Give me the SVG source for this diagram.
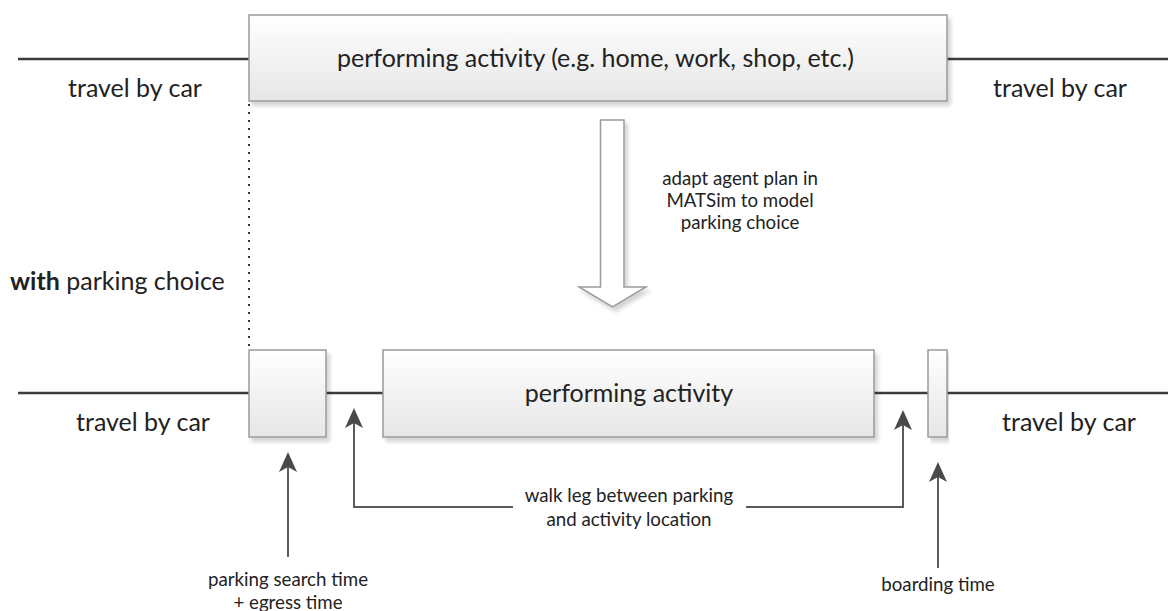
<svg xmlns="http://www.w3.org/2000/svg" width="1168" height="611" viewBox="0 0 1168 611">
<defs>
<linearGradient id="g" x1="0" y1="0" x2="0" y2="1">
<stop offset="0" stop-color="#ffffff"/>
<stop offset="1" stop-color="#e6e6e6"/>
</linearGradient>
<filter id="sh" x="-5%" y="-5%" width="115%" height="125%">
<feGaussianBlur in="SourceAlpha" stdDeviation="2"/>
<feOffset dx="3" dy="4"/>
<feComponentTransfer><feFuncA type="linear" slope="0.18"/></feComponentTransfer>
<feMerge><feMergeNode/><feMergeNode in="SourceGraphic"/></feMerge>
</filter>
<marker id="ah" viewBox="0 0 20 18" refX="14" refY="9" markerWidth="20" markerHeight="18" markerUnits="userSpaceOnUse" orient="auto">
<path d="M0,0 L20,9 L0,18 L5,9 Z" fill="#4a4a4a"/>
</marker>
</defs>
<style>
.box{fill:url(#g);stroke:#9a9a9a;stroke-width:1.5;filter:url(#sh)}
.tl{stroke:#3c3c3c;stroke-width:2.5;fill:none}
.ar{stroke:#5a5a5a;stroke-width:2;fill:none;marker-end:url(#ah)}
text{font-family:Lato,"Open Sans","Liberation Sans",sans-serif;fill:#222}
.big{font-size:25px}
.sm{font-size:18.7px}
</style>
<rect width="1168" height="611" fill="#ffffff"/>
<g id="connectors">
<line class="tl" x1="18" y1="59" x2="249" y2="59"/>
<line class="tl" x1="947" y1="59" x2="1168" y2="59"/>
<line x1="249" y1="104" x2="249" y2="350" stroke="#333" stroke-width="2" stroke-dasharray="2,6"/>
<line class="tl" x1="18" y1="393" x2="249" y2="393"/>
<line class="tl" x1="326" y1="393" x2="383" y2="393"/>
<line class="tl" x1="874" y1="393" x2="928" y2="393"/>
<line class="tl" x1="947" y1="393" x2="1168" y2="393"/>
<path class="ar" d="M288,557 L288,458"/>
<path class="ar" d="M513,507 L354,507 L354,414"/>
<path class="ar" d="M746,507 L903,507 L903,416"/>
<path class="ar" d="M938,568 L938,468"/>
</g>
<g id="big-arrow">
<path d="M600.5,120 L624,120 L624,287 L646,287 L612.5,307 L579,287 L600.5,287 Z" fill="#ffffff" stroke="#9a9a9a" stroke-width="1.5" filter="url(#sh)"/>
</g>
<g id="top-activity">
<rect class="box" x="249" y="15" width="698" height="86"/>
<text class="big" x="337" y="67">performing activity (e.g. home, work, shop, etc.)</text>
</g>
<g id="parking-box">
<rect class="box" x="249" y="350" width="77" height="87"/>
</g>
<g id="activity-box">
<rect class="box" x="383" y="350" width="491" height="87"/>
<text class="big" x="629" y="402" text-anchor="middle">performing activity</text>
</g>
<g id="boarding-box">
<rect class="box" x="928" y="350" width="19" height="87"/>
</g>
<g id="labels">
<text class="big" x="135" y="97" text-anchor="middle">travel by car</text>
<text class="big" x="1060" y="97" text-anchor="middle">travel by car</text>
<text class="big" x="143" y="431" text-anchor="middle">travel by car</text>
<text class="big" x="1069" y="431" text-anchor="middle">travel by car</text>
<text class="big" x="10" y="290"><tspan font-weight="bold">with</tspan> parking choice</text>
<text class="sm" x="740" y="185" text-anchor="middle">adapt agent plan in</text>
<text class="sm" x="740" y="207" text-anchor="middle">MATSim to model</text>
<text class="sm" x="740" y="229" text-anchor="middle">parking choice</text>
<text class="sm" x="629" y="502" text-anchor="middle">walk leg between parking</text>
<text class="sm" x="629" y="526" text-anchor="middle">and activity location</text>
<text class="sm" x="288" y="586" text-anchor="middle">parking search time</text>
<text class="sm" x="288" y="609" text-anchor="middle">+ egress time</text>
<text class="sm" x="938" y="591" text-anchor="middle">boarding time</text>
</g>
</svg>
